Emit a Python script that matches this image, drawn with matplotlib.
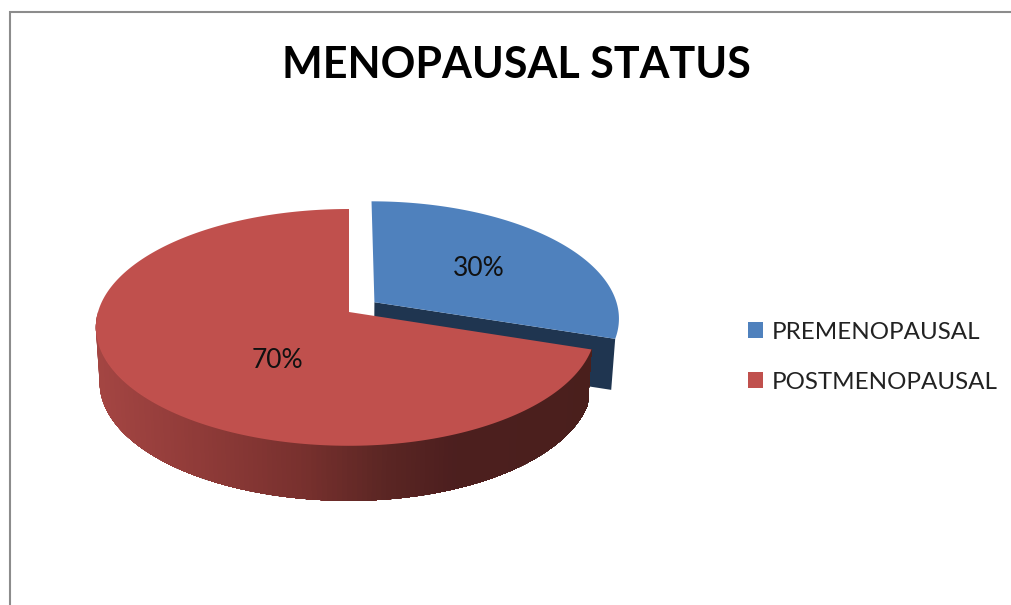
import numpy as np
import matplotlib
matplotlib.use('Agg')
import matplotlib.pyplot as plt
from matplotlib.collections import PolyCollection
from matplotlib.patches import Patch

title = 'MENOPAUSAL STATUS'
categories = ['PREMENOPAUSAL', 'POSTMENOPAUSAL']
values = [30, 70]
colors = ['#4f81bd', '#c0504d']

plt.rcParams['font.family'] = ['Lato', 'DejaVu Sans']

fig = plt.figure(figsize=(10.11, 6.05), dpi=100)
# axes in image pixels, y going down
ax = fig.add_axes([0, 0, 1, 1])
ax.set_xlim(0, 1011)
ax.set_ylim(605, 0)
ax.axis('off')

# tilted disc with a bit of perspective
cx, cy = 349, 312
a, b, k = 251, 116.4, 0.13
right_squeeze = 0.975
depth = 55
shrink = 0.985


def project(u, v):
    d = 1 + k * v
    return cx + a * u * np.where(u > 0, right_squeeze, 1) / d, cy - b * v / d


def drop(x, y, h=depth):
    return cx + (x - cx) * shrink, y + h


def wedge(theta1, theta2, du=0, dv=0):
    t = np.radians(np.linspace(theta1, theta2, 200))
    u = np.r_[du, du + np.cos(t)]
    v = np.r_[dv, dv + np.sin(t)]
    return project(u, v)


# wedges run clockwise from 12 o'clock
blue_sweep = 360 * values[0] / sum(values)
blue_start = 90 - blue_sweep
blue_du, blue_dv = 0.105, 0.085

# exploded slice: cut face, then top
bx, by = wedge(blue_start, 90, blue_du, blue_dv)
apex = (bx[0], by[0])
end = (bx[1], by[1])
face = [apex, end, drop(*end, 51), drop(*apex, 51)]
ax.fill([p[0] for p in face], [p[1] for p in face], color='#1f3550', lw=0)
ax.fill(bx, by, color=colors[0], lw=0)

# side of the big slice, shaded from left to right
shade_x = [100, 200, 300, 380, 450, 600]
shade_r = [0.64, 0.56, 0.47, 0.36, 0.30, 0.29]
shade_g = [0.27, 0.23, 0.19, 0.15, 0.12, 0.12]
shade_b = [0.26, 0.22, 0.18, 0.14, 0.12, 0.11]

t = np.radians(np.linspace(180, 360 + blue_start, 160))
rx, ry = project(np.cos(t), np.sin(t))
lx, ly = drop(rx, ry)
# each strip reaches to the far end and the next one paints over it, so no seams show
strips = []
strip_colors = []
for i in range(len(t) - 1):
    upper = list(zip(rx[i:], ry[i:]))
    lower = list(zip(lx[i:], ly[i:]))[::-1]
    strips.append(upper + lower)
    strip_colors.append((np.interp(rx[i], shade_x, shade_r), np.interp(rx[i], shade_x, shade_g), np.interp(rx[i], shade_x, shade_b)))
ax.add_collection(PolyCollection(strips, facecolors=strip_colors, edgecolors='none'))

rx, ry = wedge(90, 360 + blue_start)
ax.fill(rx, ry, color=colors[1], lw=0)

# percent labels
ax.text(479, 269, f'{values[0]}%', fontsize=19, color='#111111', ha='center', va='center')
ax.text(277, 361, f'{values[1]}%', fontsize=19, color='#111111', ha='center', va='center')

ax.text(516, 65, title, fontsize=31, fontweight='bold', color='black', ha='center', va='center')

handles = [Patch(facecolor=colors[0], label=categories[0]), Patch(facecolor=colors[1], label=categories[1])]
ax.legend(handles=handles, loc='upper left', bbox_to_anchor=(748 / 1011, 1 - 321.5 / 605), frameon=False,
          fontsize=17.4, handlelength=0.62, handleheight=0.62, handletextpad=0.35, labelspacing=1.2,
          labelcolor='#222222', borderaxespad=0, borderpad=0)

# chart frame, cut off by the picture on the right and at the bottom
ax.plot([10, 10, 1011], [605, 12, 12], color='#8c8c8c', lw=1.5, solid_joinstyle='miter', clip_on=False)

fig.savefig('out.png', dpi=100)
